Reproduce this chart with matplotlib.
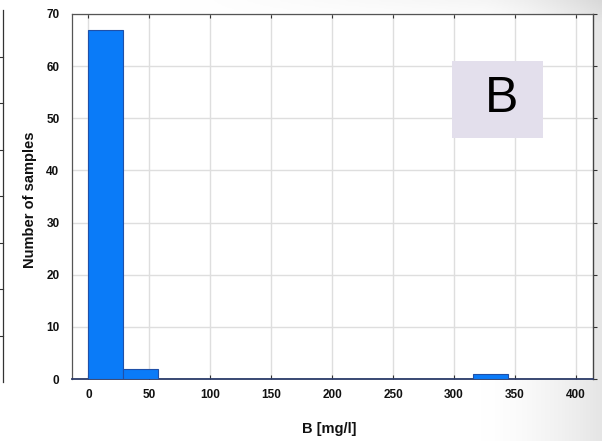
import numpy as np
import matplotlib
matplotlib.use("Agg")
import matplotlib.pyplot as plt
from matplotlib import font_manager

# ---- data ----
bin_edges = np.linspace(0, 344, 13)
counts = [67, 2, 0, 0, 0, 0, 0, 0, 0, 0, 0, 1]
x_ticks = [0, 50, 100, 150, 200, 250, 300, 350, 400]
y_ticks = [0, 10, 20, 30, 40, 50, 60, 70]
x_label = "B [mg/l]"
y_label = "Number of samples"
panel_label = "B"

names = {f.name for f in font_manager.fontManager.ttflist}
narrow = ["Liberation Sans Narrow", "Liberation Sans", "DejaVu Sans"]
narrow = [n for n in narrow if n in names] or ["DejaVu Sans"]

fig = plt.figure(figsize=(6.02, 4.41), dpi=100)

# background gradient (slide style)
bg = fig.add_axes([0, 0, 1, 1], zorder=-10)
gx = np.linspace(0, 1, 300)
gy = np.linspace(0, 1, 220)
X, Y = np.meshgrid(gx, gy)
val = 1 - 0.10 * np.clip((X - 0.80) / 0.20, 0, 1) ** 1.5 \
      - 0.05 * np.clip(1 - Y / 0.05, 0, 1) * np.clip((X - 0.3) / 0.7, 0, 1)
img = np.dstack([val, val, val])
bg.imshow(img, extent=[0, 1, 0, 1], origin="upper", aspect="auto")
bg.axis("off")

# partial frame of neighbouring chart at the left edge
fig.add_artist(plt.Line2D([3/602, 3/602], [1 - 382/441, 1 - 10/441],
                          color="#333333", lw=0.9, transform=fig.transFigure))
for yy in np.linspace(382, 10, 9)[1:-1]:
    fig.add_artist(plt.Line2D([0, 3/602], [1 - yy/441, 1 - yy/441],
                              color="#333333", lw=0.8, transform=fig.transFigure))

ax = fig.add_axes([72/602, 1 - 379/441, (593 - 72)/602, (379 - 14)/441])
ax.set_facecolor("white")
ax.hist(bin_edges[:-1], bins=bin_edges, weights=counts,
        color="#0A7BF8", edgecolor="#1F50A8", linewidth=0.8, zorder=3)

ax.set_xlim(-13.5, 414)
ax.set_ylim(0, 70)
ax.set_xticks(x_ticks)
ax.set_yticks(y_ticks)
ax.grid(True, color="#DEDEDE", linewidth=1.0, zorder=0)
ax.set_axisbelow(True)

for lab in ax.get_xticklabels() + ax.get_yticklabels():
    lab.set_fontfamily(narrow)
    lab.set_fontweight("bold")
    lab.set_fontsize(8.5)
    lab.set_color("#111111")

ax.tick_params(axis="x", which="both", direction="in", length=3, width=0.8,
               top=True, bottom=True, pad=7, colors="#333333", labelcolor="#111111")
ax.tick_params(axis="y", which="both", direction="out", length=3, width=0.8,
               left=False, right=True, pad=6, colors="#333333", labelcolor="#111111")

ax.spines["bottom"].set_color("#2B3A67")
ax.spines["bottom"].set_linewidth(1.3)
ax.spines["left"].set_color("#555555")
ax.spines["left"].set_linewidth(0.9)
ax.spines["right"].set_color("#444444")
ax.spines["right"].set_linewidth(1.0)
ax.spines["top"].set_color("#555555")
ax.spines["top"].set_linewidth(0.9)

lab_font = ["Liberation Sans", "DejaVu Sans"]
fig.text(329.5/602, 1 - 429/441, x_label, fontsize=10.5, fontweight="bold",
         family=lab_font, ha="center", va="center", color="#111111")
fig.text(30/602, 1 - 200/441, y_label, fontsize=10.5, fontweight="bold",
         family=lab_font, ha="center", va="center", rotation=90, color="#111111")

# panel label box
fig.patches.append(plt.Rectangle((452/602, 1 - 138/441), (543 - 452)/602, (138 - 61)/441,
                                 transform=fig.transFigure, facecolor="#E3DFEC",
                                 edgecolor="none", zorder=5))
fig.text(501.5/602, 1 - 99.5/441, panel_label, fontsize=36, ha="center", va="center",
         family=lab_font, color="#000000", zorder=6)

fig.savefig("out.png", dpi=100)
